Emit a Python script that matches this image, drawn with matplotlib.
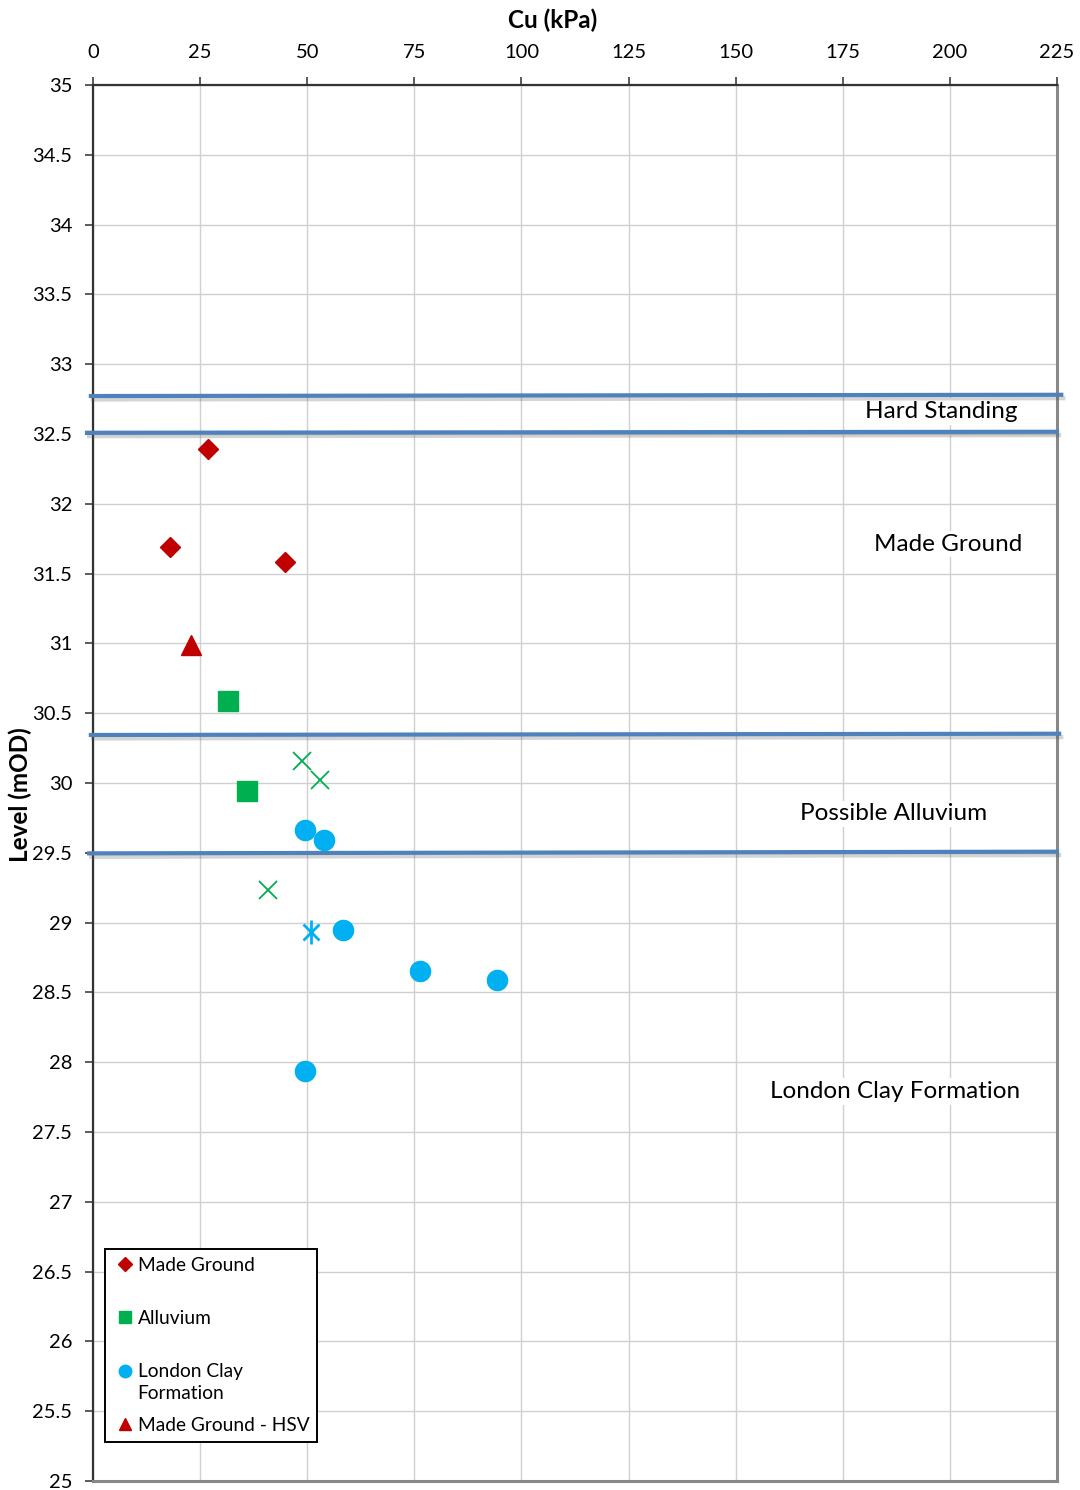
import matplotlib
matplotlib.use("Agg")
import matplotlib.pyplot as plt
import matplotlib.patheffects as pe
from matplotlib.lines import Line2D

plt.rcParams['font.family'] = ['Lato', 'DejaVu Sans']

# Cu (kPa) vs level (mOD)
made_ground_cu = [26.8, 18.0, 44.8]
made_ground_lvl = [32.39, 31.69, 31.58]
hsv_cu = [22.9]
hsv_lvl = [30.99]
alluvium_cu = [31.5, 35.9]
alluvium_lvl = [30.59, 29.94]
alluvium_x_cu = [48.8, 53.0, 40.8]
alluvium_x_lvl = [30.16, 30.02, 29.23]
clay_cu = [49.5, 53.9, 58.4, 76.3, 94.3, 49.5]
clay_lvl = [29.66, 29.59, 28.95, 28.65, 28.59, 27.94]
clay_star_cu = [50.9]
clay_star_lvl = [28.93]

# stratum boundaries, drawn slightly sloped as in the source
bound_x0 = [-0.5, -1.4, -0.5, -0.9]
bound_x1 = [226.0, 225.0, 225.5, 225.0]
bound_y0 = [32.772, 32.509, 30.344, 29.496]
bound_y1 = [32.781, 32.516, 30.353, 29.508]

strata_names = ['Hard Standing', 'Made Ground', 'Possible Alluvium', 'London Clay Formation']
strata_x = [198.0, 199.6, 186.8, 187.2]
strata_y = [32.66, 31.71, 29.78, 27.79]

x_ticks = list(range(0, 226, 25))
y_ticks = [25 + 0.5 * i for i in range(21)]

fig = plt.figure(figsize=(10.8, 14.9), dpi=100)
ax = fig.add_axes([93 / 1080, 1 - 1481 / 1490, 964 / 1080, 1396 / 1490])

ax.set_xlim(0, 225)
ax.set_ylim(25, 35)
ax.xaxis.tick_top()
ax.set_xticks(x_ticks)
ax.set_yticks(y_ticks)
ax.set_yticklabels(['%g' % v for v in y_ticks])
ax.tick_params(axis='both', labelsize=14.5, color='#404040', length=6, width=1.2, direction='out')
ax.tick_params(axis='x', pad=11)
ax.tick_params(axis='y', pad=9)
ax.grid(True, color='#d0d0d0', linewidth=1.0)
ax.set_axisbelow(True)

for side in ['left', 'top']:
    ax.spines[side].set_color('#333333')
    ax.spines[side].set_linewidth(1.6)
for side in ['right', 'bottom']:
    ax.spines[side].set_color('#888888')
    ax.spines[side].set_linewidth(2.2)

# boundaries
for x0, x1, y0, y1 in zip(bound_x0, bound_x1, bound_y0, bound_y1):
    ax.plot([x0, x1], [y0, y1], color='#4f81bd', linewidth=3.0, clip_on=False, zorder=3,
            path_effects=[pe.SimpleLineShadow(offset=(1.5, -2.5), alpha=0.25, shadow_color='#555555'),
                          pe.Normal()])

for name, tx, ty in zip(strata_names, strata_x, strata_y):
    ax.text(tx, ty, name, fontsize=17.5, ha='center', va='center', zorder=2,
            bbox=dict(facecolor='white', edgecolor='none', pad=2))

ax.plot(made_ground_cu, made_ground_lvl, 'D', color='#c00000', markersize=10, linestyle='none', zorder=4)
ax.plot(hsv_cu, hsv_lvl, '^', color='#c00000', markersize=15, linestyle='none', zorder=4)
ax.plot(alluvium_cu, alluvium_lvl, 's', color='#00b050', markersize=14.5, linestyle='none', zorder=4)
ax.plot(alluvium_x_cu, alluvium_x_lvl, 'x', color='#00b050', markersize=13, markeredgewidth=1.3,
        linestyle='none', zorder=4)
ax.plot(clay_cu, clay_lvl, 'o', color='#00b0f0', markersize=14.5, linestyle='none', zorder=4)
ax.plot(clay_star_cu, clay_star_lvl, 'x', color='#00b0f0', markersize=12, markeredgewidth=2,
        linestyle='none', zorder=4)
ax.plot(clay_star_cu, clay_star_lvl, '|', color='#00b0f0', markersize=17, markeredgewidth=2,
        linestyle='none', zorder=4)

fig.text(553 / 1080, 1 - 20 / 1490, 'Cu (kPa)', fontsize=17.5, fontweight='bold', ha='center', va='center')
fig.text(20 / 1080, 1 - 795 / 1490, 'Level (mOD)', fontsize=17.5, fontweight='bold', ha='center',
         va='center', rotation=90)

handles = [
    Line2D([], [], marker='D', color='#c00000', markersize=7, linestyle='none'),
    Line2D([], [], marker='s', color='#00b050', markersize=9, linestyle='none'),
    Line2D([], [], marker='o', color='#00b0f0', markersize=9, linestyle='none'),
    Line2D([], [], marker='^', color='#c00000', markersize=9, linestyle='none'),
]
labels = ['Made Ground', 'Alluvium', 'London Clay', 'Made Ground - HSV']
leg = ax.legend(handles, labels, loc='upper left', bbox_to_anchor=(105 / 1080, 1 - 1249 / 1490),
                bbox_transform=fig.transFigure, fontsize=13.8, frameon=True, fancybox=False,
                edgecolor='black', framealpha=1, labelspacing=1.9, handlelength=1.25,
                handletextpad=0.05, borderpad=0.4, borderaxespad=0)
leg.get_frame().set_linewidth(1.4)
# Excel wraps the long label onto a second line that spills into the gap
ax.annotate('Formation', xy=(0, 0), xycoords=leg.get_texts()[2], xytext=(0, -3),
            textcoords='offset points', fontsize=13.8, ha='left', va='top', zorder=10,
            annotation_clip=False)

fig.savefig('out.png', dpi=100)
